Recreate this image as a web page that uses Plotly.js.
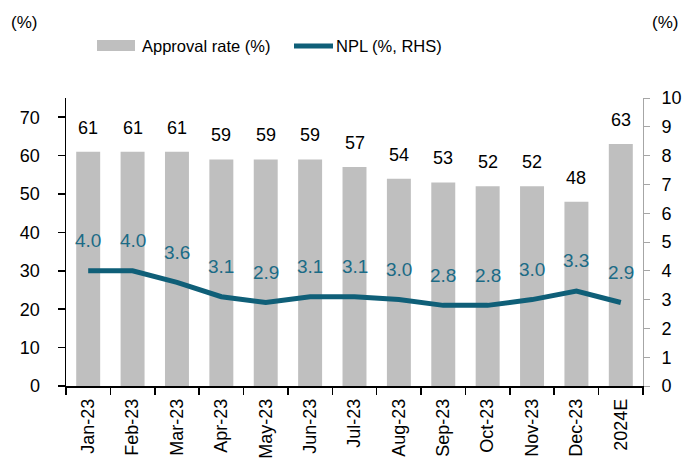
<!DOCTYPE html>
<html>
<head>
<meta charset="utf-8">
<script src="https://cdn.plot.ly/plotly-3.0.1.min.js"></script>
<style>html,body{margin:0;padding:0;background:#fff;}#chart{width:688px;height:466px;}</style>
</head>
<body>
<div id="chart"></div>
<script>
const categories = ['Jan-23','Feb-23','Mar-23','Apr-23','May-23','Jun-23','Jul-23','Aug-23','Sep-23','Oct-23','Nov-23','Dec-23','2024E'];
const approvalRate = [61,61,61,59,59,59,57,54,53,52,52,48,63];
const npl = [4.0,4.0,3.6,3.1,2.9,3.1,3.1,3.0,2.8,2.8,3.0,3.3,2.9];
const seriesNames = ['Approval rate (%)', 'NPL (%, RHS)'];

const FONT = 'Arial, "Liberation Sans", sans-serif';
const BAR_COLOR = '#bfbfbf';
const LINE_COLOR = '#0f5f78';
const LABEL_COLOR = '#1b6b86';

const W = 688, H = 466, mL = 66, mR = 45, mT = 98, mB = 80;
const pw = W - mL - mR, ph = H - mT - mB;
const px = v => (v - mL) / pw;          // pixel x -> paper
const py = v => (H - mB - v) / ph;      // pixel y -> paper

const traces = [
  {
    type: 'bar', name: seriesNames[0], x: categories, y: approvalRate,
    marker: {color: BAR_COLOR}, yaxis: 'y', hoverinfo: 'skip', showlegend: false
  },
  {
    type: 'scatter', mode: 'lines', name: seriesNames[1], x: categories, y: npl,
    line: {color: LINE_COLOR, width: 5}, yaxis: 'y2', hoverinfo: 'skip', showlegend: false
  }
];

const annotations = [];
categories.forEach((c, i) => {
  annotations.push({
    x: c, y: approvalRate[i], xref: 'x', yref: 'y', text: String(approvalRate[i]),
    showarrow: false, yanchor: 'middle', yshift: 24,
    font: {family: FONT, size: 18, color: '#000'}
  });
  annotations.push({
    x: c, y: npl[i], xref: 'x', yref: 'y2', text: npl[i].toFixed(1),
    showarrow: false, yanchor: 'middle', yshift: 30,
    font: {family: FONT, size: 19, color: LABEL_COLOR}
  });
});
// unit labels
annotations.push({x: px(9), y: py(22), xref: 'paper', yref: 'paper', text: '(%)', showarrow: false,
  xanchor: 'left', yanchor: 'middle', font: {family: FONT, size: 17, color: '#000'}});
annotations.push({x: px(680), y: py(22), xref: 'paper', yref: 'paper', text: '(%)', showarrow: false,
  xanchor: 'right', yanchor: 'middle', font: {family: FONT, size: 17, color: '#000'}});
// legend texts
annotations.push({x: px(140), y: py(46), xref: 'paper', yref: 'paper', text: seriesNames[0], showarrow: false,
  xanchor: 'left', yanchor: 'middle', font: {family: FONT, size: 16.5, color: '#000'}});
annotations.push({x: px(334), y: py(46), xref: 'paper', yref: 'paper', text: seriesNames[1], showarrow: false,
  xanchor: 'left', yanchor: 'middle', font: {family: FONT, size: 16.5, color: '#000'}});

const shapes = [
  {type: 'rect', xref: 'paper', yref: 'paper', x0: px(97), x1: px(135), y0: py(40), y1: py(51),
   fillcolor: BAR_COLOR, line: {width: 0}},
  {type: 'line', xref: 'paper', yref: 'paper', x0: px(294), x1: px(333), y0: py(46), y1: py(46),
   line: {color: LINE_COLOR, width: 5}}
];

const layout = {
  width: W, height: H,
  margin: {l: mL, r: mR, t: mT, b: mB, pad: 0},
  paper_bgcolor: '#fff', plot_bgcolor: '#fff',
  font: {family: FONT, size: 18, color: '#000'},
  bargap: 0.46,
  showlegend: false,
  xaxis: {
    type: 'category', tickangle: -90, showgrid: false, zeroline: false,
    showline: true, linecolor: '#000', linewidth: 1.5,
    ticks: 'outside', tickson: 'boundaries', ticklen: 7, tickcolor: '#000', tickwidth: 1.5,
    ticklabelstandoff: 4,
    tickfont: {family: FONT, size: 18, color: '#000'}, fixedrange: true
  },
  yaxis: {
    range: [0, 75], tickvals: [0,10,20,30,40,50,60,70], showgrid: false, zeroline: false,
    showline: true, linecolor: '#000', linewidth: 1.5,
    ticks: 'outside', ticklen: 7, tickcolor: '#000', tickwidth: 1.5,
    ticklabelstandoff: 14,
    tickfont: {family: FONT, size: 18, color: '#000'}, fixedrange: true
  },
  yaxis2: {
    range: [0, 10], dtick: 1, overlaying: 'y', side: 'right', showgrid: false, zeroline: false,
    showline: true, linecolor: '#a6a6a6', linewidth: 1,
    ticks: 'outside', ticklen: 6, tickcolor: '#a6a6a6', tickwidth: 1,
    ticklabelstandoff: 8,
    tickfont: {family: FONT, size: 18, color: '#000'}, fixedrange: true
  },
  annotations: annotations,
  shapes: shapes
};

Plotly.newPlot('chart', traces, layout, {staticPlot: true, displayModeBar: false});
</script>
</body>
</html>
